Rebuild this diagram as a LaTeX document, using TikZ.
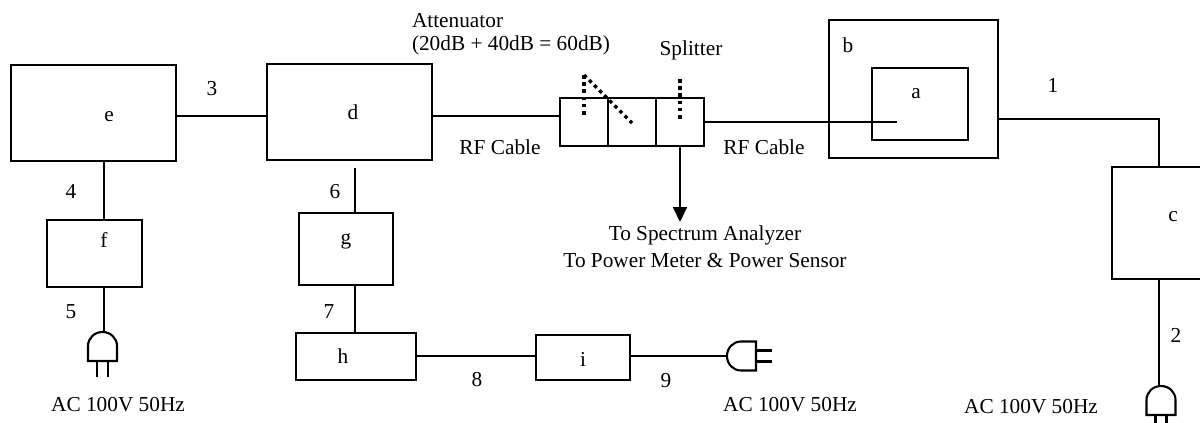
\documentclass[tikz,border=0pt]{standalone}
\usepackage{fontspec}
\setmainfont{Liberation Serif}
\usetikzlibrary{fit,arrows.meta}
\tikzset{
  x=1pt,y=-1pt,
  wire/.style={line width=2.1pt,line cap=butt,draw=black},
  boxn/.style={draw=black,line width=2.1pt,inner sep=0pt,outer sep=0pt,fill=none},
  lab/.style={inner sep=0pt,outer sep=0pt,font=\fontsize{21.3}{25}\selectfont,text=black,yshift=-1.5pt},
  dots/.style={line width=3.4pt,draw=black,dash pattern=on 3.5pt off 3.7pt},
  plugpic/.pic={
    \draw[wire,line join=miter] (-14.5,29) -- (-14.5,14) .. controls (-14.5,6) and (-8,0) .. (0,0) .. controls (8,0) and (14.5,6) .. (14.5,14) -- (14.5,29) -- cycle;
    \draw[wire] (-5.5,29) -- (-5.5,45);
    \draw[wire] (5.5,29) -- (5.5,45);
  }
}
\begin{document}
\begin{tikzpicture}
\useasboundingbox (0,0) rectangle (1200,423);
% boxes
\node[boxn,fit={(11,65)(176,161)}] (e) {};
\node[boxn,fit={(267,64)(432,160)}] (d) {};
\node[boxn,fit={(47,220)(142,287)}] (f) {};
\node[boxn,fit={(299,213)(393,285)}] (g) {};
\node[boxn,fit={(296,333)(416,380)}] (h) {};
\node[boxn,fit={(536,335)(630,380)}] (i) {};
\node[boxn,fit={(560,98)(608,146)}] (att1) {};
\node[boxn,fit={(608,98)(656,146)}] (att2) {};
\node[boxn,fit={(656,98)(704,146)}] (spl) {};
\node[boxn,fit={(829,20)(998,158)}] (b) {};
\node[boxn,fit={(872,68)(968,140)}] (a) {};
\node[boxn,fit={(1112,167)(1220,279)}] (c) {};
% free ends
\coordinate (p5) at (102.5,332);
\coordinate (p9) at (727,356);
\coordinate (p2) at (1161,386);
\coordinate (end6) at (355,168);
\coordinate (ainner) at (897,122);
\coordinate (arrowtip) at (680,222);
\coordinate (bend1) at (1159,119);
% connectors
\draw[wire] (e.east |- 0,116) -- (d.west |- 0,116);
\draw[wire] (d.east |- 0,116) -- (att1.west |- 0,116);
\draw[wire] (spl.east |- 0,122) -- (ainner);
\draw[wire] (b.east |- bend1) -- (bend1) -- (bend1 |- c.north);
\draw[wire] (c.south -| bend1) -- (bend1 |- p2);
\draw[wire] (e.south -| 104,0) -- (f.north -| 104,0);
\draw[wire] (f.south -| 104,0) -- (104,332);
\draw[wire] (end6) -- (end6 |- g.north);
\draw[wire] (g.south -| end6) -- (end6 |- h.north);
\draw[wire] (h.east |- 0,356) -- (i.west |- 0,356);
\draw[wire] (i.east |- 0,356) -- (p9);
\draw[wire,-{Triangle[width=14pt,length=15pt]}] (spl.south) -- (arrowtip);
% dotted switches
\coordinate (swtop) at (584,75);
\draw[dots] (swtop) -- (584,118);
\draw[dots] (swtop) -- (632,123);
\draw[dots] (680,79) -- (680,122);
% plugs
\pic at (p5) {plugpic};
\pic[rotate=90] at (p9) {plugpic};
\pic at (p2) {plugpic};
% labels
\node[lab] (le) at (109,115) {e};
\node[lab] (ld) at (353,111) {d};
\node[lab] (lf) at (104,238) {f};
\node[lab] (lg) at (346,240) {g};
\node[lab] (lh) at (343,355) {h};
\node[lab] (li) at (583,358) {i};
\node[lab] (la) at (916,92) {a};
\node[lab] (lb) at (848,44) {b};
\node[lab] (lc) at (1173,215) {c};
\node[lab] (n1) at (1053,84) {1};
\node[lab] (n2) at (1176,334) {2};
\node[lab] (n3) at (212,87) {3};
\node[lab] (n4) at (71,190) {4};
\node[lab] (n5) at (71,310) {5};
\node[lab] (n6) at (335,190) {6};
\node[lab] (n7) at (329,310) {7};
\node[lab] (n8) at (477,378) {8};
\node[lab] (n9) at (666,379) {9};
\node[lab,anchor=west] (tatt) at (412,19) {Attenuator};
\node[lab,anchor=west] (tatt2) at (412,44) {(20dB + 40dB = 60dB)};
\node[lab] (tspl) at (691,49) {Splitter};
\node[lab] (rf1) at (500,146) {RF Cable};
\node[lab] (rf2) at (764,146) {RF Cable};
\node[lab] (ts1) at (705,234) {To Spectrum Analyzer};
\node[lab] (ts2) at (705,259) {To Power Meter \& Power Sensor};
\node[lab] (ac1) at (118,403) {AC 100V 50Hz};
\node[lab] (ac2) at (790,403) {AC 100V 50Hz};
\node[lab] (ac3) at (1031,405) {AC 100V 50Hz};
\end{tikzpicture}
\end{document}
